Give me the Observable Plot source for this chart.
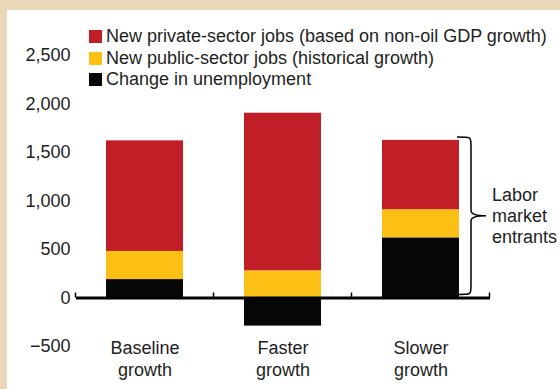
<!DOCTYPE html>
<html><head><meta charset="utf-8">
<script src="https://cdn.jsdelivr.net/npm/d3@7"></script>
<script src="https://cdn.jsdelivr.net/npm/@observablehq/plot@0.6"></script>
<style>
html,body{margin:0;padding:0;background:#e9d8b7;overflow:hidden;}
#panel{position:absolute;left:7px;top:10px;width:553px;height:379px;background:#fff;font-family:"Liberation Sans",Arial,sans-serif;color:#1e1e1e;}
#chart{position:absolute;left:0;top:0;}
#legend{position:absolute;left:82px;top:15.75px;font-size:18px;}
.row{display:flex;align-items:center;height:21.5px;white-space:nowrap;}
.sw{width:13px;height:13px;margin-right:4px;flex:none;}
</style></head><body>
<div id="panel"><div id="chart"></div><div id="legend"></div></div>
<script>
const categories = ["Baseline growth", "Faster growth", "Slower growth"];
const tickLabels = ["Baseline\ngrowth", "Faster\ngrowth", "Slower\ngrowth"];
const seriesNames = [
  "New private-sector jobs (based on non-oil GDP growth)",
  "New public-sector jobs (historical growth)",
  "Change in unemployment"
];
const seriesColors = ["#c01f27", "#fcc015", "#070707"];
const privateJobs = [1140, 1625, 715];
const publicJobs = [290, 280, 290];
const unemployment = [190, -290, 620];
const yTicks = [-500, 0, 500, 1000, 1500, 2000, 2500];
const braceCategory = "Slower growth";
const braceLabel = ["Labor", "market", "entrants"];

// stacking order: unemployment at bottom, then public, then private
const rows = [];
categories.forEach((c, i) => {
  rows.push({category: c, series: seriesNames[2], value: unemployment[i]});
  rows.push({category: c, series: seriesNames[1], value: publicJobs[i]});
  rows.push({category: c, series: seriesNames[0], value: privateJobs[i]});
});
const braceTotal = (() => {
  const i = categories.indexOf(braceCategory);
  return unemployment[i] + publicJobs[i] + privateJobs[i];
})();

function extras(index, scales) {
  const x = scales.x, y = scales.y;
  const bw = x.bandwidth ? x.bandwidth() : scales.scales.x.bandwidth;
  const step = x.step ? x.step() : scales.scales.x.step;
  const g = d3.create("svg:g");
  const y0 = y(0);
  const gap = (step - bw) / 2;
  const bounds = categories.map(c => x(c) - gap).concat([x(categories[categories.length - 1]) + bw + gap]);
  g.selectAll("line.tk").data(bounds).join("line")
    .attr("x1", d => d).attr("x2", d => d)
    .attr("y1", y0 - 5).attr("y2", y0)
    .attr("stroke", "#000").attr("stroke-width", 1.5);
  // brace
  const xr = x(braceCategory) + bw;
  const top = y(braceTotal) - 3, bot = y(0) - 3, mid = (top + bot) / 2;
  const x0 = xr - 2, xv = xr + 12, xt = xr + 27;
  const p = `M${x0},${top} C${xv},${top} ${xv},${top} ${xv},${top + 8} L${xv},${mid - 5} Q${xv},${mid} ${xt},${mid} Q${xv},${mid} ${xv},${mid + 5} L${xv},${bot - 8} C${xv},${bot} ${xv},${bot} ${x0},${bot}`;
  g.append("path").attr("d", p).attr("fill", "none").attr("stroke", "#000").attr("stroke-width", 1.5);
  const t = g.append("text").attr("x", xt + 6).attr("y", mid)
    .attr("font-size", 18).attr("fill", "#1e1e1e").attr("text-anchor", "start");
  braceLabel.forEach((s, i) => {
    t.append("tspan").attr("x", xt + 6)
      .attr("y", mid + (i - 1) * 21)
      .attr("dy", "0.35em").text(s);
  });
  return g.node();
}

const chart = Plot.plot({
  width: 553,
  height: 379,
  marginLeft: 69,
  marginRight: 70,
  marginTop: 45,
  marginBottom: 43,
  style: {fontFamily: "'Liberation Sans', Arial, sans-serif", fontSize: "18px", color: "#1e1e1e", background: "transparent"},
  x: {domain: categories, paddingInner: 0.442, paddingOuter: 0.221},
  y: {domain: [-500, 2500]},
  color: {domain: seriesNames, range: seriesColors},
  marks: [
    Plot.axisY({ticks: yTicks, tickSize: 0, tickPadding: 6, tickFormat: d3.format(","), fontSize: 18, label: null}),
    Plot.axisX({tickSize: 0, tickPadding: -8, tickFormat: d => tickLabels[categories.indexOf(d)], lineHeight: 1.22, fontSize: 18, label: null}),
    Plot.barY(rows, {x: "category", y: "value", fill: "series"}),
    Plot.ruleY([0], {stroke: "#000", strokeWidth: 3}),
    extras
  ]
});
document.getElementById("chart").appendChild(chart);

const legend = d3.select("#legend");
seriesNames.forEach((s, i) => {
  const r = legend.append("div").attr("class", "row");
  r.append("div").attr("class", "sw").style("background", seriesColors[i]);
  r.append("span").text(s);
});
</script>
</body></html>
